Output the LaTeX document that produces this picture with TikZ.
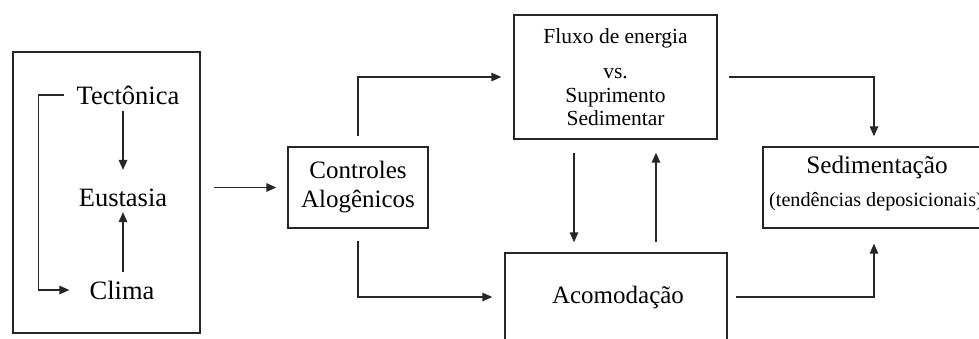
\documentclass[tikz,border=0pt]{standalone}
\usepackage{fontspec}
\setmainfont{Liberation Serif}
\usetikzlibrary{positioning,calc,arrows.meta}

\begin{document}
\begin{tikzpicture}[x=1pt, y=-1pt]
	\tikzset{
		box/.style={draw=black!85, line width=1.4pt, inner sep=0pt},
		word/.style={inner sep=0pt, font=\fontsize{26.5}{30}\selectfont},
		arr/.style={draw=black!85, line width=1.4pt, -{Triangle[length=10pt, width=8.5pt]}}
	}
	\clip (0,0) rectangle (979,338);
	\fill[white] (0,0) rectangle (979,338);
	
	% Left block
	\node[box, minimum width=187, minimum height=281] (ext) at (106.5,192.5) {};
	\node[word] (tect) at (128,95) {Tectônica};
	\node[word] (eust) at (123,198) {Eustasia};
	\node[word] (clima) at (122,290) {Clima};
	
	\draw[arr, shorten <=6pt, shorten >=19pt] (eust |- tect.south) -- (eust.north);
	\draw[arr, shorten <=8pt, shorten >=5pt] (eust |- clima.north) -- (eust.south);
	\draw[arr, shorten <=12pt, shorten >=20pt] (tect.west) -- ++(-38,0) |- (clima.west);
	
	% Controls
	\node[box, minimum width=140, minimum height=81, align=center,
		font=\fontsize{25}{29}\selectfont] (ctrl) at (358,187.5) {Controles\\Alogênicos};
	\draw[arr, shorten <=13pt, shorten >=11pt] (ext.east |- ctrl) -- (ctrl.west);
	
	% Energy flux and accommodation
	\node[box, minimum width=203, minimum height=124, align=center,
		font=\fontsize{21.5}{23.5}\selectfont] (flux) at (615.5,77)
		{Fluxo de energia\\[12pt]vs.\\Suprimento\\Sedimentar};
	\node[box, minimum width=222, minimum height=107] (acom) at (616,306.5) {};
	\node[word, font=\fontsize{25}{29}\selectfont] (acomtxt) at (618,297) {Acomodação};
	
	\draw[arr, shorten <=10pt, shorten >=12pt] (ctrl.north) |- (flux.west);
	\draw[arr, shorten <=12pt, shorten >=12pt] (ctrl.south) |- (acomtxt -| acom.west);
	\draw[arr, shorten <=13pt, shorten >=10pt] ([xshift=-41.5pt]flux.south) -- ([xshift=-41.5pt]flux.south |- acom.north);
	\draw[arr, shorten <=10pt, shorten >=13pt] ([xshift=40.5pt]flux.south |- acom.north) -- ([xshift=40.5pt]flux.south);
	
	% Sedimentation
	\node[box, minimum width=228, minimum height=81] (sed) at (877,187.5) {};
	\node[word, font=\fontsize{25.2}{29}\selectfont] (sedtxt) at (877,167) {Sedimentação};
	\node[word, font=\fontsize{20.2}{24}\selectfont] (tendtxt) at (876,202) {(tendências deposicionais)};
	
	\draw[arr, shorten <=11pt, shorten >=10pt] (flux.east) -| ([xshift=-3pt]sed.north);
	\draw[arr, shorten <=8pt, shorten >=15pt] (acomtxt -| acom.east) -| ([xshift=-3pt]sed.south);
\end{tikzpicture}
\end{document}
